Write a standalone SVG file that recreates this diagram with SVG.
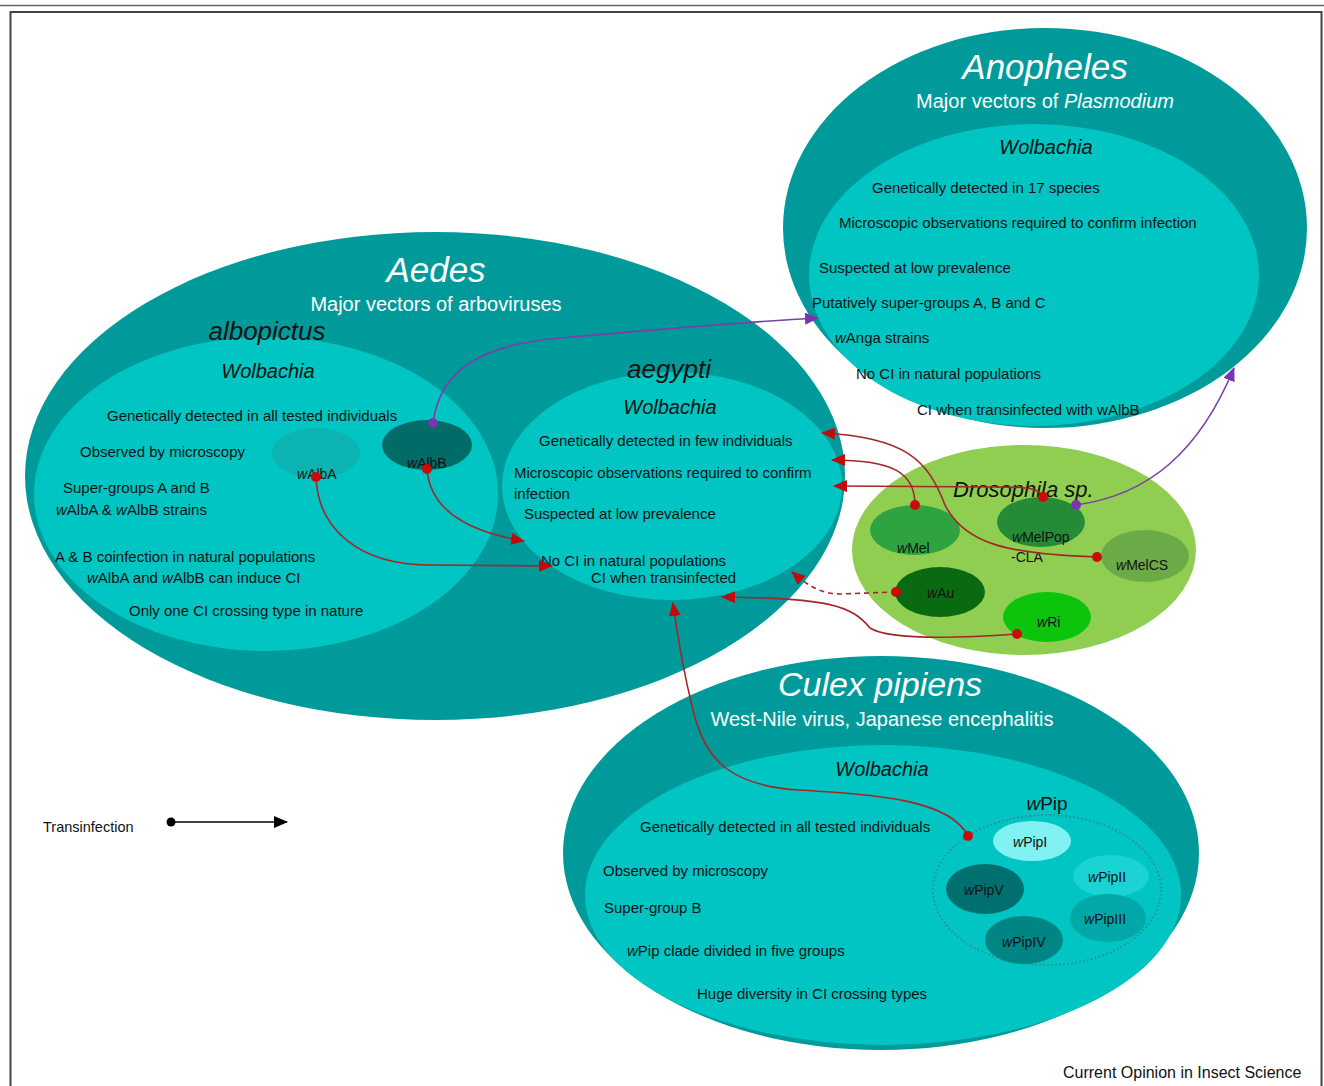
<svg xmlns="http://www.w3.org/2000/svg" width="1324" height="1086" viewBox="0 0 1324 1086">
<style>
text{font-family:"Liberation Sans",Arial,sans-serif;fill:#111}
.t{font-size:15px}
.it{font-style:italic}
.wh{fill:#fff}
.h1{font-size:35px;font-style:italic;fill:#fff;text-anchor:middle}
.h2{font-size:20px;fill:#fff;text-anchor:middle}
.sp{font-size:26px;font-style:italic;text-anchor:middle}
.wb{font-size:20px;font-style:italic;text-anchor:middle}
.lb{font-size:14px}
.outer{fill:#009a9a}
.inner{fill:#00c5c3}
.tr{fill:none;stroke:#a3262a;stroke-width:1.6}
.pu{fill:none;stroke:#7b3fa6;stroke-width:1.6}
.rd{fill:#cc0a0a}
.pd{fill:#7a35b0}
</style>
<defs>
<marker id="ar" viewBox="0 0 14 12" refX="13" refY="6" markerWidth="14" markerHeight="12" markerUnits="userSpaceOnUse" orient="auto"><path d="M0,0 L14,6 L0,12 Z" fill="#c30a0a"/></marker>
<marker id="ap" viewBox="0 0 14 12" refX="13" refY="6" markerWidth="14" markerHeight="12" markerUnits="userSpaceOnUse" orient="auto"><path d="M0,0 L14,6 L0,12 Z" fill="#7a35b0"/></marker>
<marker id="ak" viewBox="0 0 14 12" refX="13" refY="6" markerWidth="14" markerHeight="12" markerUnits="userSpaceOnUse" orient="auto"><path d="M0,0 L14,6 L0,12 Z" fill="#000"/></marker>
</defs>
<rect width="1324" height="1086" fill="#fff"/>
<line x1="0" y1="5.5" x2="1324" y2="5.5" stroke="#666" stroke-width="1.5"/>
<rect x="10.5" y="12" width="1311" height="1090" fill="none" stroke="#444" stroke-width="2"/>

<g id="aedes">
<ellipse class="outer" cx="435" cy="476" rx="410" ry="244"/>
<text class="h1" x="436" y="282">Aedes</text>
<text class="h2" x="436" y="311">Major vectors of arboviruses</text>
</g>
<g id="albopictus">
<ellipse class="inner" cx="266" cy="494" rx="232" ry="157"/>
<text class="sp" x="267" y="340">albopictus</text>
<text class="wb" x="268" y="378">Wolbachia</text>
<text class="t" x="107" y="421">Genetically detected in all tested individuals</text>
<text class="t" x="80" y="457">Observed by microscopy</text>
<text class="t" x="63" y="493">Super-groups A and B</text>
<text class="t" x="56" y="515"><tspan class="it">w</tspan>AlbA &amp; <tspan class="it">w</tspan>AlbB strains</text>
<text class="t" x="55" y="562">A &amp; B coinfection in natural populations</text>
<text class="t" x="87" y="583"><tspan class="it">w</tspan>AlbA and <tspan class="it">w</tspan>AlbB can induce CI</text>
<text class="t" x="129" y="616">Only one CI crossing type in nature</text>
</g>
<g id="walba">
<ellipse cx="316" cy="453" rx="44" ry="25" fill="#0bb4b1"/>
<text class="lb" x="297" y="479"><tspan class="it">w</tspan>AlbA</text>
</g>
<g id="walbb">
<ellipse cx="427" cy="445" rx="45" ry="25" fill="#006b67"/>
<text class="lb" x="407" y="468"><tspan class="it">w</tspan>AlbB</text>
</g>
<g id="aegypti">
<ellipse class="inner" cx="672" cy="486" rx="170" ry="114"/>
<text class="sp" x="669" y="378">aegypti</text>
<text class="wb" x="670" y="414">Wolbachia</text>
<text class="t" x="539" y="446">Genetically detected in few individuals</text>
<text class="t" x="514" y="478">Microscopic observations required to confirm</text>
<text class="t" x="514" y="499">infection</text>
<text class="t" x="524" y="519">Suspected at low prevalence</text>
<text class="t" x="541" y="566">No CI in natural populations</text>
<text class="t" x="591" y="583">CI when transinfected</text>
</g>

<g id="anopheles">
<ellipse class="outer" cx="1045" cy="228" rx="262" ry="200"/>
<ellipse class="inner" cx="1034" cy="275" rx="225" ry="151"/>
<text class="h1" x="1045" y="79">Anopheles</text>
<text class="h2" x="1045" y="108">Major vectors of <tspan class="it">Plasmodium</tspan></text>
<text class="wb" x="1046" y="154">Wolbachia</text>
<text class="t" x="872" y="193">Genetically detected in 17 species</text>
<text class="t" x="839" y="228">Microscopic observations required to confirm infection</text>
<text class="t" x="819" y="273">Suspected at low prevalence</text>
<text class="t" x="812" y="308">Putatively super-groups A, B and C</text>
<text class="t" x="835" y="343"><tspan class="it">w</tspan>Anga strains</text>
<text class="t" x="856" y="379">No CI in natural populations</text>
<text class="t" x="917" y="415">CI when transinfected with wAlbB</text>
</g>

<g id="drosophila">
<ellipse cx="1024" cy="550" rx="172" ry="105" fill="#8fce50"/>
<text class="it" x="953" y="497" style="font-size:22px">Drosophila sp.</text>
</g>
<g id="wmel"><ellipse cx="915" cy="530" rx="45" ry="25" fill="#2fa33f"/><text class="lb" x="897" y="553"><tspan class="it">w</tspan>Mel</text></g>
<g id="wmelpop"><ellipse cx="1041" cy="522" rx="44" ry="25" fill="#268b37"/><text class="lb" x="1012" y="542"><tspan class="it">w</tspan>MelPop</text><text class="lb" x="1011" y="562">-CLA</text></g>
<g id="wmelcs"><ellipse cx="1145" cy="556" rx="44" ry="26" fill="#6aab47"/><text class="lb" x="1116" y="570"><tspan class="it">w</tspan>MelCS</text></g>
<g id="wau"><ellipse cx="940" cy="592" rx="45" ry="25" fill="#0a6a12"/><text class="lb" x="927" y="598"><tspan class="it">w</tspan>Au</text></g>
<g id="wri"><ellipse cx="1047" cy="617" rx="44" ry="25" fill="#0cc40c"/><text class="lb" x="1037" y="627"><tspan class="it">w</tspan>Ri</text></g>

<g id="culex">
<ellipse class="outer" cx="881" cy="853" rx="318" ry="197"/>
<ellipse class="inner" cx="883" cy="895" rx="298" ry="150"/>
<text class="h1" x="880" y="696" style="font-size:34px">Culex pipiens</text>
<text class="h2" x="882" y="726">West-Nile virus, Japanese encephalitis</text>
<text class="wb" x="882" y="776">Wolbachia</text>
<text class="t" x="640" y="832">Genetically detected in all tested individuals</text>
<text class="t" x="603" y="876">Observed by microscopy</text>
<text class="t" x="604" y="913">Super-group B</text>
<text class="t" x="627" y="956"><tspan class="it">w</tspan>Pip clade divided in five groups</text>
<text class="t" x="697" y="999">Huge diversity in CI crossing types</text>
</g>
<g id="wpip">
<ellipse cx="1047" cy="890" rx="114" ry="75" fill="none" stroke="#2a8f8f" stroke-width="2" stroke-dasharray="1.5,2.5"/>
<text x="1047" y="810" style="font-size:19px;text-anchor:middle"><tspan class="it">w</tspan>Pip</text>
</g>
<g id="wpipi"><ellipse cx="1032" cy="841" rx="39" ry="20" fill="#80f2f2"/><text class="lb" x="1013" y="847"><tspan class="it">w</tspan>PipI</text></g>
<g id="wpipii"><ellipse cx="1111" cy="876" rx="38" ry="21" fill="#1ad3d3"/><text class="lb" x="1088" y="882"><tspan class="it">w</tspan>PipII</text></g>
<g id="wpipv"><ellipse cx="985" cy="889" rx="39" ry="25" fill="#006f6f"/><text class="lb" x="964" y="895"><tspan class="it">w</tspan>PipV</text></g>
<g id="wpipiii"><ellipse cx="1108" cy="918" rx="38" ry="24" fill="#02a7a7"/><text class="lb" x="1084" y="924"><tspan class="it">w</tspan>PipIII</text></g>
<g id="wpipiv"><ellipse cx="1024" cy="940" rx="39" ry="24" fill="#008585"/><text class="lb" x="1002" y="947"><tspan class="it">w</tspan>PipIV</text></g>

<g id="connectors">
<path class="tr" d="M316,477 C318,530 360,565 430,565 L552,566" marker-end="url(#ar)"/>
<path class="tr" d="M427,469 C430,512 470,532 524,541" marker-end="url(#ar)"/>
<path class="pu" d="M433,423 C440,370 480,345 560,338 C650,330 740,322 818,318" marker-end="url(#ap)"/>
<path class="pu" d="M1076,505 C1150,495 1200,450 1234,368" marker-end="url(#ap)"/>
<path class="tr" d="M915,505 C915,472 892,460 832,460" marker-end="url(#ar)"/>
<path class="tr" d="M1043,497 C1040,489 1030,487 1000,487 L834,486" marker-end="url(#ar)"/>
<path class="tr" d="M1097,557 C1010,554 965,545 945,505 C928,460 905,437 822,433" marker-end="url(#ar)"/>
<path class="tr" d="M896,592 L840,594 C822,594 808,586 792,572" stroke-dasharray="5,4" marker-end="url(#ar)"/>
<path class="tr" d="M1017,634 C960,638 890,641 870,628 C852,606 830,598 722,597" marker-end="url(#ar)"/>
<path class="tr" d="M968,836 C950,800 880,795 800,790 C730,786 705,760 693,710 C683,670 678,640 673,603" marker-end="url(#ar)"/>
<circle class="rd" cx="316" cy="477" r="5"/>
<circle class="rd" cx="427" cy="469" r="5"/>
<circle class="pd" cx="433" cy="423" r="5"/>
<circle class="pd" cx="1076" cy="505" r="5"/>
<circle class="rd" cx="915" cy="505" r="5"/>
<circle class="rd" cx="1043" cy="497" r="5"/>
<circle class="rd" cx="1097" cy="557" r="5"/>
<circle class="rd" cx="896" cy="592" r="5"/>
<circle class="rd" cx="1017" cy="634" r="5"/>
<circle class="rd" cx="968" cy="836" r="5"/>
</g>

<g id="legend">
<text class="t" x="43" y="832" style="font-size:14.5px">Transinfection</text>
<line x1="171" y1="822" x2="287" y2="822" stroke="#000" stroke-width="1.5" marker-end="url(#ak)"/>
<circle cx="171" cy="822" r="4.5" fill="#000"/>
</g>
<text class="t" x="1063" y="1078" style="font-size:16px">Current Opinion in Insect Science</text>
</svg>
